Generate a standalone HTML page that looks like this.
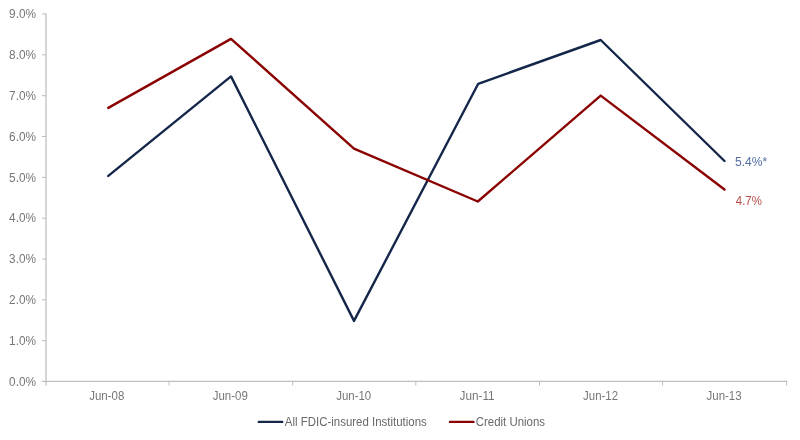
<!DOCTYPE html>
<html>
<head>
<meta charset="utf-8">
<title>Chart</title>
<style>
html,body{margin:0;padding:0;background:#fff;}
body{width:800px;height:440px;overflow:hidden;}
svg{display:block;will-change:transform;}
text{font-family:"Liberation Sans",sans-serif;font-size:12px;fill:#767676;}
</style>
</head>
<body>
<svg width="800" height="440" viewBox="0 0 800 440">
<rect width="800" height="440" fill="#ffffff"/>
<!-- axes -->
<g stroke="#bebebe" stroke-width="1.25" fill="none">
<line x1="46" y1="13.5" x2="46" y2="385.5"/>
<line x1="42" y1="381.4" x2="787.2" y2="381.4"/>
</g>
<g stroke="#bcbcbc" stroke-width="1" fill="none">
<line x1="42" y1="14" x2="46" y2="14"/>
<line x1="42" y1="54.8" x2="46" y2="54.8"/>
<line x1="42" y1="95.7" x2="46" y2="95.7"/>
<line x1="42" y1="136.5" x2="46" y2="136.5"/>
<line x1="42" y1="177.3" x2="46" y2="177.3"/>
<line x1="42" y1="218.2" x2="46" y2="218.2"/>
<line x1="42" y1="259" x2="46" y2="259"/>
<line x1="42" y1="299.8" x2="46" y2="299.8"/>
<line x1="42" y1="340.7" x2="46" y2="340.7"/>
<line x1="169.1" y1="381" x2="169.1" y2="385.5"/>
<line x1="292.7" y1="381" x2="292.7" y2="385.5"/>
<line x1="415.8" y1="381" x2="415.8" y2="385.5"/>
<line x1="539.5" y1="381" x2="539.5" y2="385.5"/>
<line x1="662.6" y1="381" x2="662.6" y2="385.5"/>
<line x1="786.6" y1="381" x2="786.6" y2="385.5"/>
</g>
<!-- y labels -->
<g text-anchor="end">
<text x="36" y="18.2" textLength="26.9" lengthAdjust="spacingAndGlyphs">9.0%</text>
<text x="36" y="59" textLength="26.9" lengthAdjust="spacingAndGlyphs">8.0%</text>
<text x="36" y="99.9" textLength="26.9" lengthAdjust="spacingAndGlyphs">7.0%</text>
<text x="36" y="140.7" textLength="26.9" lengthAdjust="spacingAndGlyphs">6.0%</text>
<text x="36" y="181.5" textLength="26.9" lengthAdjust="spacingAndGlyphs">5.0%</text>
<text x="36" y="222.4" textLength="26.9" lengthAdjust="spacingAndGlyphs">4.0%</text>
<text x="36" y="263.2" textLength="26.9" lengthAdjust="spacingAndGlyphs">3.0%</text>
<text x="36" y="304" textLength="26.9" lengthAdjust="spacingAndGlyphs">2.0%</text>
<text x="36" y="344.9" textLength="26.9" lengthAdjust="spacingAndGlyphs">1.0%</text>
<text x="36" y="385.7" textLength="26.9" lengthAdjust="spacingAndGlyphs">0.0%</text>
</g>
<!-- x labels -->
<g text-anchor="middle">
<text x="106.8" y="400.2" textLength="35.1" lengthAdjust="spacingAndGlyphs">Jun-08</text>
<text x="230.3" y="400.2" textLength="35.1" lengthAdjust="spacingAndGlyphs">Jun-09</text>
<text x="353.7" y="400.2" textLength="35.1" lengthAdjust="spacingAndGlyphs">Jun-10</text>
<text x="477.1" y="400.2" textLength="35.1" lengthAdjust="spacingAndGlyphs">Jun-11</text>
<text x="600.6" y="400.2" textLength="35.1" lengthAdjust="spacingAndGlyphs">Jun-12</text>
<text x="724.1" y="400.2" textLength="35.1" lengthAdjust="spacingAndGlyphs">Jun-13</text>
</g>
<!-- series -->
<polyline fill="none" stroke="#14274a" stroke-width="2.4" stroke-linecap="round" stroke-linejoin="round" points="108.3,175.9 231,76.4 354,320.9 478.2,83.8 600.7,40 724.5,161"/>
<polyline fill="none" stroke="#8b0000" stroke-width="2.4" stroke-linecap="round" stroke-linejoin="round" points="108.3,107.9 231,38.9 354,148.7 477.8,201.5 600.7,95.6 724.5,189.5"/>
<!-- data labels -->
<text x="735" y="165.6" textLength="32.3" lengthAdjust="spacingAndGlyphs" style="fill:#536da6">5.4%*</text>
<text x="735.8" y="204.6" textLength="26.1" lengthAdjust="spacingAndGlyphs" style="fill:#b84e4b">4.7%</text>
<!-- legend -->
<line x1="258.8" y1="421.9" x2="282.2" y2="421.9" stroke="#14274a" stroke-width="2.4" stroke-linecap="round"/>
<text x="284.8" y="425.5" textLength="142" lengthAdjust="spacingAndGlyphs" style="fill:#686868">All FDIC-insured Institutions</text>
<line x1="450" y1="421.9" x2="473.5" y2="421.9" stroke="#8b0000" stroke-width="2.4" stroke-linecap="round"/>
<text x="475.8" y="425.5" textLength="69.2" lengthAdjust="spacingAndGlyphs" style="fill:#686868">Credit Unions</text>
</svg>
</body>
</html>
